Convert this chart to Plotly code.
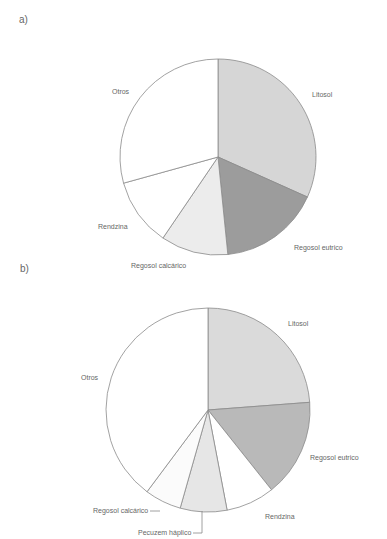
import plotly.graph_objects as go

# Panel a)
labels_a = ["Litosol", "Regosol eutrico", "Regosol calcárico", "Rendzina", "Otros"]
values_a = [31.7, 16.7, 11.1, 11.2, 29.3]
colors_a = ["#d6d6d6", "#9c9c9c", "#ececec", "#ffffff", "#ffffff"]

# Panel b)
labels_b = ["Litosol", "Regosol eutrico", "Rendzina", "Pecuzem háplico", "Regosol calcárico", "Otros"]
values_b = [23.8, 15.5, 7.7, 7.4, 5.8, 39.8]
colors_b = ["#dadada", "#b9b9b9", "#ffffff", "#e6e6e6", "#fbfbfb", "#ffffff"]

W, H = 387, 539

def dom(cx, cy, r):
    return dict(x=[(cx - r) / W, (cx + r) / W], y=[(H - cy - r) / H, (H - cy + r) / H])

fig = go.Figure()
fig.add_trace(go.Pie(labels=labels_a, values=values_a, sort=False, direction="clockwise",
                     rotation=0, textinfo="none", hoverinfo="label+value",
                     marker=dict(colors=colors_a, line=dict(color="#8a8a8a", width=0.8)),
                     domain=dom(218, 157, 98), showlegend=False))
fig.add_trace(go.Pie(labels=labels_b, values=values_b, sort=False, direction="clockwise",
                     rotation=0, textinfo="none", hoverinfo="label+value",
                     marker=dict(colors=colors_b, line=dict(color="#8a8a8a", width=0.8)),
                     domain=dom(208, 410, 102), showlegend=False))

font = dict(family="Liberation Sans, Arial, sans-serif", size=7, color="#666666")

def ann(text, x, y, size=7, anchor="center"):
    return dict(text=text, x=x / W, y=1 - y / H, xref="paper", yref="paper",
                showarrow=False, xanchor=anchor, yanchor="middle",
                font=dict(font, size=size))

annotations = [
    ann("a)", 23, 20, size=10),
    ann("b)", 25, 268, size=10),
    # panel a labels
    ann(labels_a[4], 121, 92),
    ann(labels_a[0], 322, 95),
    ann(labels_a[3], 113, 226),
    ann(labels_a[1], 318, 248),
    ann(labels_a[2], 158, 266),
    # panel b labels
    ann(labels_b[0], 298, 323),
    ann(labels_b[5], 90, 377),
    ann(labels_b[1], 308, 458, anchor="left"),
    ann(labels_b[2], 280, 516),
    ann(labels_b[4], 150, 511, anchor="right"),
    ann(labels_b[3], 193, 533, anchor="right"),
]

shapes = [
    dict(type="line", xref="paper", yref="paper", x0=150 / W, y0=1 - 511 / H, x1=160 / W, y1=1 - 511 / H,
         line=dict(color="#888888", width=0.8)),
    dict(type="line", xref="paper", yref="paper", x0=193 / W, y0=1 - 533 / H, x1=202 / W, y1=1 - 533 / H,
         line=dict(color="#888888", width=0.8)),
    dict(type="line", xref="paper", yref="paper", x0=202 / W, y0=1 - 533 / H, x1=202 / W, y1=1 - 511 / H,
         line=dict(color="#888888", width=0.8)),
]

fig.update_layout(width=W, height=H, margin=dict(l=0, r=0, t=0, b=0),
                  paper_bgcolor="white", plot_bgcolor="white",
                  annotations=annotations, shapes=shapes)
fig.write_html("out.html")
